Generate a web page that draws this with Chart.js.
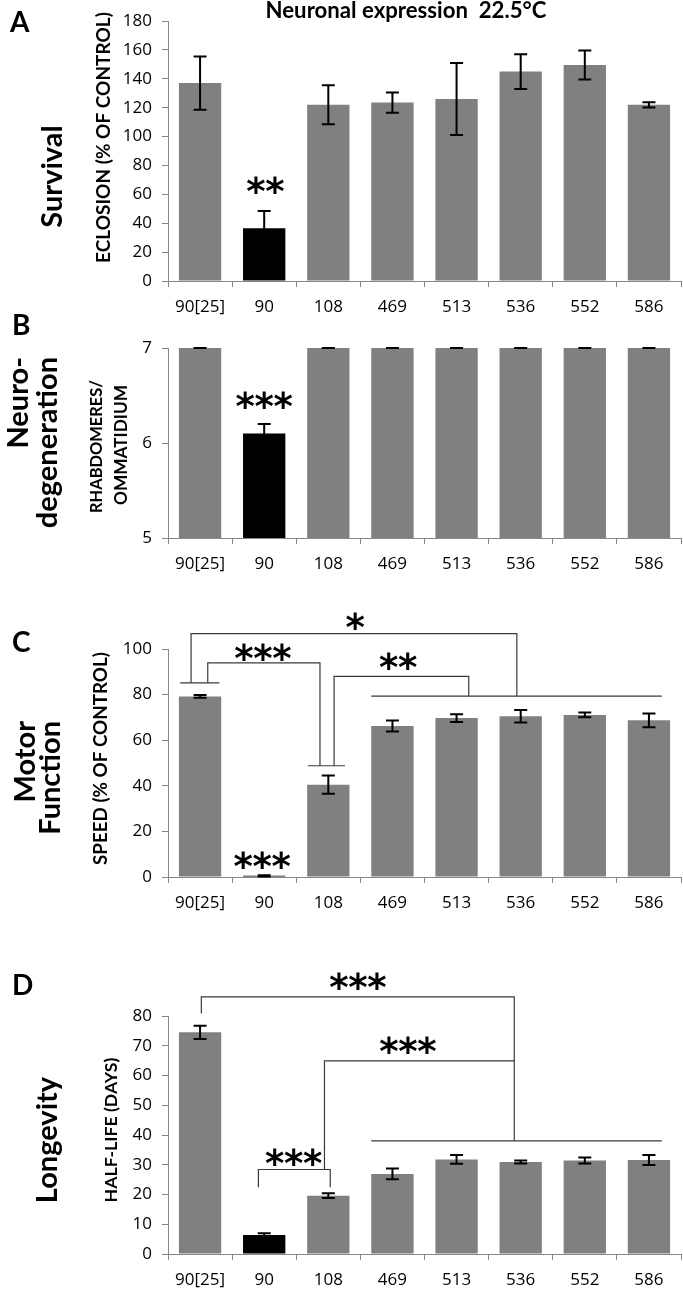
<!DOCTYPE html>
<html>
<head>
<meta charset="utf-8">
<title>Neuronal expression 22.5°C</title>
<script src="https://cdn.jsdelivr.net/npm/chart.js@4.4.1/dist/chart.umd.min.js"></script>
<style>
  html, body { margin: 0; padding: 0; background: #fff; }
  #page { position: relative; width: 683px; height: 1292px; overflow: hidden; }
  .panel { position: absolute; left: 0; width: 683px; }
</style>
</head>
<body>
<div id="page">
  <div class="panel" style="top:0px;height:325px"><canvas id="chartA"></canvas></div>
  <div class="panel" style="top:305px;height:285px"><canvas id="chartB"></canvas></div>
  <div class="panel" style="top:590px;height:350px"><canvas id="chartC"></canvas></div>
  <div class="panel" style="top:940px;height:352px"><canvas id="chartD"></canvas></div>
</div>
<script>
var genotypes = ['90[25]', '90', '108', '469', '513', '536', '552', '586'];

// A - survival
var eclosion = [137, 36.5, 122, 123.5, 126, 145, 149.5, 122];
var eclosionErr = [18.5, 12, 13.5, 7, 25, 12, 10, 1.8];
var eclosionTicks = [0, 20, 40, 60, 80, 100, 120, 140, 160, 180];

// B - neurodegeneration
var rhabdomeres = [7, 6.1, 7, 7, 7, 7, 7, 7];
var rhabdomeresErr = [0, 0.1, 0, 0, 0, 0, 0, 0];
var rhabdomeresTicks = [5, 6, 7];

// C - motor function
var speed = [79.2, 0.5, 40.5, 66.2, 69.7, 70.5, 71.1, 68.7];
var speedErr = [0.6, 0.3, 4, 2.4, 1.7, 2.7, 1, 3];
var speedTicks = [0, 20, 40, 60, 80, 100];

// D - longevity
var halfLife = [74.5, 6.4, 19.6, 26.9, 31.8, 30.9, 31.4, 31.6];
var halfLifeErr = [2.2, 0.6, 0.8, 1.8, 1.5, 0.5, 1, 1.7];
var halfLifeTicks = [0, 10, 20, 30, 40, 50, 60, 70, 80];

Chart.defaults.font.family = '"Open Sans", Lato, sans-serif';
Chart.defaults.color = '#000';

var AXIS = '#878787';
var GREY = '#808080';

function barColours() {
  return genotypes.map(function (g, i) { return i === 1 ? '#000000' : GREY; });
}

// error bars (mean +/- sem)
var errorBars = {
  id: 'errorBars',
  afterDatasetsDraw: function (chart, args, opts) {
    var ds = chart.data.datasets[0];
    var meta = chart.getDatasetMeta(0);
    var y = chart.scales.y;
    var ctx = chart.ctx;
    ctx.save();
    ctx.strokeStyle = '#000';
    ctx.lineWidth = 2;
    meta.data.forEach(function (bar, i) {
      var v = ds.data[i], e = opts.err[i];
      var top = y.getPixelForValue(v + e), bot = y.getPixelForValue(v - e);
      ctx.beginPath();
      ctx.moveTo(bar.x, top); ctx.lineTo(bar.x, bot);
      ctx.moveTo(bar.x - 6.5, top); ctx.lineTo(bar.x + 6.5, top);
      ctx.moveTo(bar.x - 6.5, bot); ctx.lineTo(bar.x + 6.5, bot);
      ctx.stroke();
    });
    ctx.restore();
  }
};

// significance brackets, stars and panel headings
var notes = {
  id: 'notes',
  afterDraw: function (chart, args, o) {
    var ctx = chart.ctx, xs = chart.scales.x, ys = chart.scales.y;
    ctx.save();
    ctx.strokeStyle = '#3a3a3a';
    ctx.lineWidth = 1.2;
    (o.brackets || []).forEach(function (pts) {
      ctx.beginPath();
      pts.forEach(function (p, k) {
        var px = xs.getPixelForValue(p[0]), py = ys.getPixelForValue(p[1]);
        if (k === 0) ctx.moveTo(px, py); else ctx.lineTo(px, py);
      });
      ctx.stroke();
    });

    ctx.fillStyle = '#000';
    ctx.font = 'bold 37px "DejaVu Sans"';
    ctx.textAlign = 'center';
    ctx.textBaseline = 'alphabetic';
    var m = ctx.measureText('*');
    var shift = (m.actualBoundingBoxAscent - m.actualBoundingBoxDescent) / 2;
    (o.stars || []).forEach(function (s) {
      var cx = xs.getPixelForValue(s.x), cy = ys.getPixelForValue(s.y);
      var n = s.t.length;
      for (var k = 0; k < n; k++) {
        ctx.fillText('*', cx + (k - (n - 1) / 2) * 19, cy + shift);
      }
    });

    (o.labels || []).forEach(function (l) {
      var size = l.size || 20;
      ctx.font = 'bold ' + size + 'px Lato';
      if (l.len) {
        size = size * l.len / ctx.measureText(l.t).width;
        ctx.font = 'bold ' + size.toFixed(2) + 'px Lato';
      }
      ctx.textAlign = l.align || 'left';
      ctx.save();
      ctx.translate(l.x, l.y);
      if (l.rot) ctx.rotate(-Math.PI / 2);
      ctx.fillText(l.t, 0, 0);
      ctx.restore();
    });
    ctx.restore();
  }
};

function makeChart(id, values, errs, ticks, padTop, axisHeight, notesOpts) {
  return new Chart(document.getElementById(id), {
    type: 'bar',
    data: {
      labels: genotypes,
      datasets: [{
        data: values,
        backgroundColor: barColours(),
        borderWidth: 0,
        barPercentage: 0.66,
        categoryPercentage: 1
      }]
    },
    options: {
      responsive: true,
      maintainAspectRatio: false,
      animation: false,
      devicePixelRatio: 1,
      layout: { padding: { top: padTop, right: 2, left: 0, bottom: 0 } },
      plugins: {
        legend: { display: false },
        tooltip: { enabled: false },
        errorBars: { err: errs },
        notes: notesOpts
      },
      scales: {
        x: {
          grid: { offset: true, drawOnChartArea: false, tickLength: 6, color: AXIS },
          border: { color: AXIS, width: 1 },
          ticks: { padding: 10, font: { size: 17 }, color: '#000', autoSkip: false, maxRotation: 0 },
          afterFit: function (s) { s.height = axisHeight; }
        },
        y: {
          min: ticks[0],
          max: ticks[ticks.length - 1],
          ticks: { stepSize: ticks[1] - ticks[0], padding: 10, font: { size: 17 }, color: '#000' },
          grid: { drawOnChartArea: false, tickLength: 6, color: AXIS },
          border: { color: AXIS, width: 1 },
          afterFit: function (s) { s.width = 168; }
        }
      }
    },
    plugins: [errorBars, notes]
  });
}

makeChart('chartA', eclosion, eclosionErr, eclosionTicks, 21, 44, {
  stars: [{ x: 1.02, y: 66.5, t: '**' }],
  labels: [
    { t: 'A', x: 10, y: 32, size: 28 },
    { t: 'Neuronal expression  22.5°C', x: 406, y: 18, len: 281, align: 'center' },
    { t: 'Survival', x: 62, y: 176.5, size: 29, rot: true, align: 'center' },
    { t: 'ECLOSION (% OF CONTROL)', x: 110, y: 137.5, len: 251, rot: true, align: 'center' }
  ]
});

makeChart('chartB', rhabdomeres, rhabdomeresErr, rhabdomeresTicks, 43, 52, {
  stars: [{ x: 1.0, y: 6.45, t: '***' }],
  labels: [
    { t: 'B', x: 12, y: 30, size: 28 },
    { t: 'Neuro-', x: 28, y: 52, size: 29, rot: true, align: 'right' },
    { t: 'degeneration', x: 57, y: 52, size: 29, rot: true, align: 'right' },
    { t: 'RHABDOMERES/', x: 102, y: 141.5, len: 133, rot: true, align: 'center' },
    { t: 'OMMATIDIUM', x: 127, y: 140, len: 120, rot: true, align: 'center' }
  ]
});

makeChart('chartC', speed, speedErr, speedTicks, 59, 63, {
  brackets: [
    [[-0.14, 85.1], [-0.14, 106.7], [4.94, 106.7], [4.94, 79.3]],
    [[-0.31, 85.1], [0.30, 85.1]],
    [[0.12, 85.1], [0.12, 93.9], [1.87, 93.9], [1.87, 48.8]],
    [[1.68, 48.8], [2.26, 48.8]],
    [[2.09, 48.8], [2.09, 88.0], [4.19, 88.0], [4.19, 79.3]],
    [[2.67, 79.3], [7.20, 79.3]]
  ],
  stars: [
    { x: 2.42, y: 112.1, t: '*' },
    { x: 0.98, y: 98.9, t: '***' },
    { x: 3.09, y: 94.6, t: '**' },
    { x: 0.97, y: 7.6, t: '***' }
  ],
  labels: [
    { t: 'C', x: 12, y: 62, size: 28 },
    { t: 'Motor', x: 35, y: 131, size: 29, rot: true, align: 'right' },
    { t: 'Function', x: 60, y: 131, size: 29, rot: true, align: 'right' },
    { t: 'SPEED (% OF CONTROL)', x: 107, y: 168.5, len: 213, rot: true, align: 'center' }
  ]
});

makeChart('chartD', halfLife, halfLifeErr, halfLifeTicks, 76, 38, {
  brackets: [
    [[0.02, 80.8], [0.02, 86.4], [4.90, 86.4], [4.90, 38.0]],
    [[1.94, 28.4], [1.94, 64.9], [4.90, 64.9]],
    [[0.91, 22.4], [0.91, 28.4], [2.03, 28.4], [2.03, 22.4]],
    [[2.67, 38.0], [7.20, 38.0]]
  ],
  stars: [
    { x: 2.46, y: 91.9, t: '***' },
    { x: 3.24, y: 70.3, t: '***' },
    { x: 1.46, y: 32.7, t: '***' }
  ],
  labels: [
    { t: 'D', x: 12, y: 55, size: 28 },
    { t: 'Longevity', x: 57, y: 200, size: 29, rot: true, align: 'center' },
    { t: 'HALF-LIFE (DAYS)', x: 117, y: 190, len: 145, rot: true, align: 'center' }
  ]
});
</script>
</body>
</html>
